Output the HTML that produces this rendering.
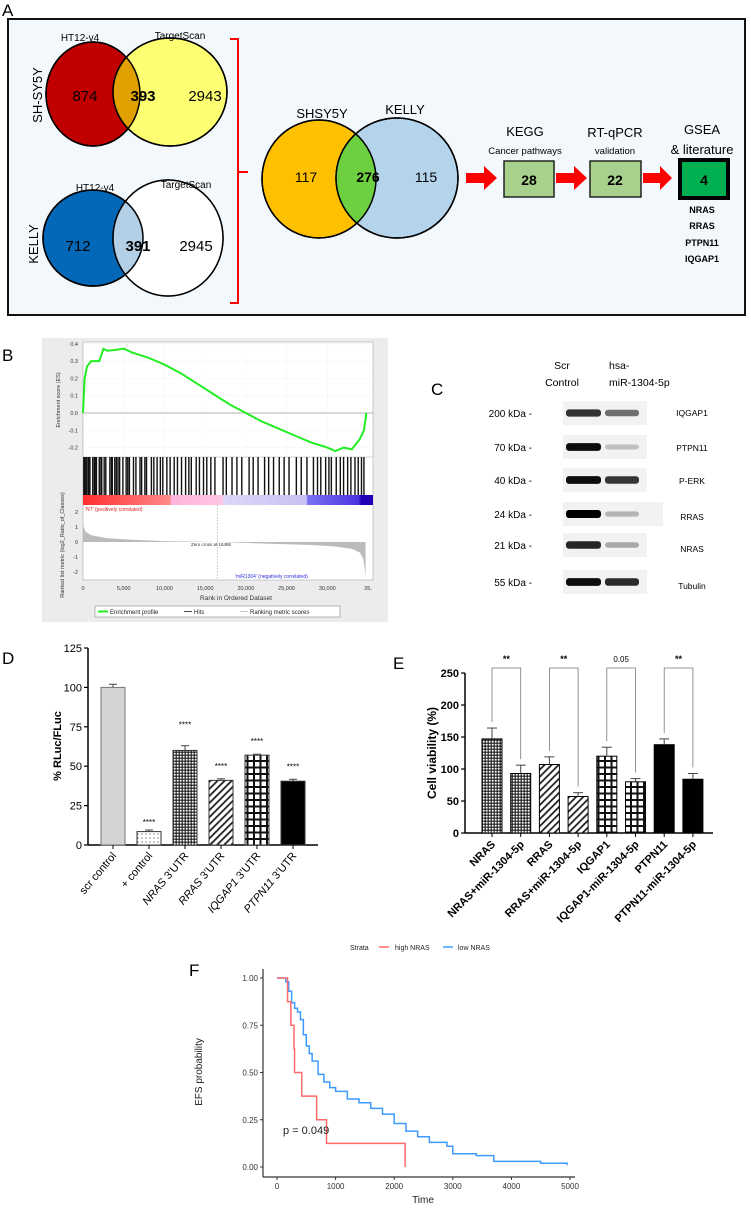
<!DOCTYPE html>
<html><head><meta charset="utf-8"><style>
html,body{margin:0;padding:0;background:#fff;}
svg{display:block;font-family:"Liberation Sans",Arial,sans-serif;}
</style></head><body>
<svg id="fig" width="751" height="1211" viewBox="0 0 751 1211" xmlns="http://www.w3.org/2000/svg">
<defs>
<pattern id="pDots" width="4" height="4" patternUnits="userSpaceOnUse"><rect width="4" height="4" fill="#fff"/><circle cx="2" cy="2" r="0.6" fill="#444"/></pattern>
<pattern id="pCheck" width="3" height="3" patternUnits="userSpaceOnUse"><rect width="3" height="3" fill="#555"/><rect width="1.5" height="1.5" fill="#fff"/><rect x="1.5" y="1.5" width="1.5" height="1.5" fill="#222"/></pattern>
<pattern id="pDiag" width="5" height="5" patternUnits="userSpaceOnUse" patternTransform="rotate(45)"><rect width="5" height="5" fill="#fff"/><rect width="1.8" height="5" fill="#222"/></pattern>
<pattern id="pGrid" width="6.5" height="6.5" patternUnits="userSpaceOnUse"><rect width="6.5" height="6.5" fill="#111"/><rect x="1.5" y="1.5" width="4.5" height="4.5" fill="#fff"/></pattern>
<linearGradient id="gBar" x1="0" x2="1" y1="0" y2="0">
<stop offset="0" stop-color="#ff2e2e"/><stop offset="0.3" stop-color="#ff8a8a"/><stop offset="0.305" stop-color="#ffb4dc"/><stop offset="0.48" stop-color="#ffc4e4"/><stop offset="0.485" stop-color="#dcd6f8"/><stop offset="0.77" stop-color="#c8c2f4"/><stop offset="0.775" stop-color="#7a72f2"/><stop offset="0.95" stop-color="#4d33e0"/><stop offset="0.96" stop-color="#2200b8"/><stop offset="1" stop-color="#2200b8"/>
</linearGradient>
</defs>

<!-- PANEL A -->
<g>
<text x="2" y="16" font-size="17">A</text>
<rect x="8" y="19" width="737" height="296" fill="#f3f8fc" stroke="#111" stroke-width="2"/>
<ellipse cx="93" cy="94" rx="47" ry="52" fill="#c00000" stroke="#000" stroke-width="1.5"/>
<ellipse cx="170" cy="92" rx="57" ry="54" fill="#ffff5a" fill-opacity="0.85" stroke="#000" stroke-width="1.5"/>
<clipPath id="cRed"><ellipse cx="93" cy="94" rx="47" ry="52"/></clipPath>
<ellipse cx="170" cy="92" rx="57" ry="54" fill="#e0a000" clip-path="url(#cRed)"/>
<ellipse cx="93" cy="94" rx="47" ry="52" fill="none" stroke="#000" stroke-width="1.5"/>
<ellipse cx="170" cy="92" rx="57" ry="54" fill="none" stroke="#000" stroke-width="1.5"/>
<text x="80" y="41" font-size="10" text-anchor="middle">HT12-v4</text>
<text x="180" y="39" font-size="10" text-anchor="middle">TargetScan</text>
<text x="85" y="101" font-size="15" text-anchor="middle">874</text>
<text x="143" y="101" font-size="15" font-weight="bold" text-anchor="middle">393</text>
<text x="205" y="101" font-size="15" text-anchor="middle">2943</text>
<text transform="translate(42,95) rotate(-90)" font-size="13" text-anchor="middle">SH-SY5Y</text>

<ellipse cx="93" cy="238" rx="50" ry="48" fill="#0468b8" stroke="#000" stroke-width="1.5"/>
<ellipse cx="168" cy="238" rx="55" ry="58" fill="#fff" fill-opacity="0" stroke="#000" stroke-width="1.5"/>
<path d="M0 0" />
<ellipse cx="168" cy="238" rx="55" ry="58" fill="#fff"/>
<clipPath id="cBlue"><ellipse cx="93" cy="238" rx="50" ry="48"/></clipPath>
<ellipse cx="168" cy="238" rx="55" ry="58" fill="#b4d0e6" clip-path="url(#cBlue)"/>
<ellipse cx="93" cy="238" rx="50" ry="48" fill="none" stroke="#000" stroke-width="1.5"/>
<ellipse cx="168" cy="238" rx="55" ry="58" fill="none" stroke="#000" stroke-width="1.5"/>
<text x="95" y="191" font-size="10" text-anchor="middle">HT12-v4</text>
<text x="186" y="188" font-size="10" text-anchor="middle">TargetScan</text>
<text x="78" y="251" font-size="15" text-anchor="middle">712</text>
<text x="138" y="251" font-size="15" font-weight="bold" text-anchor="middle">391</text>
<text x="196" y="251" font-size="15" text-anchor="middle">2945</text>
<text transform="translate(38,244) rotate(-90)" font-size="13" text-anchor="middle">KELLY</text>

<path d="M230 39 H238 V303 H230 M238 172 H248" fill="none" stroke="#ff0000" stroke-width="2"/>

<ellipse cx="319" cy="179" rx="57" ry="59" fill="#ffc000" stroke="#000" stroke-width="1.5"/>
<ellipse cx="397" cy="178" rx="61" ry="60" fill="#b4d4ec" stroke="#000" stroke-width="1.5"/>
<clipPath id="cOr"><ellipse cx="319" cy="179" rx="57" ry="59"/></clipPath>
<ellipse cx="397" cy="178" rx="61" ry="60" fill="#6cd040" clip-path="url(#cOr)"/>
<ellipse cx="319" cy="179" rx="57" ry="59" fill="none" stroke="#000" stroke-width="1.5"/>
<ellipse cx="397" cy="178" rx="61" ry="60" fill="none" stroke="#000" stroke-width="1.5"/>
<text x="322" y="118" font-size="13" text-anchor="middle">SHSY5Y</text>
<text x="405" y="114" font-size="13" text-anchor="middle">KELLY</text>
<text x="306" y="182" font-size="14" text-anchor="middle">117</text>
<text x="368" y="182" font-size="14" font-weight="bold" text-anchor="middle">276</text>
<text x="426" y="182" font-size="14" text-anchor="middle">115</text>

<path d="M466 173 H484 V166 L497 178 L484 190 V183 H466 Z" fill="#ff0000"/>
<path d="M556 173 H574 V166 L587 178 L574 190 V183 H556 Z" fill="#ff0000"/>
<path d="M643 173 H660 V166 L672 178 L660 190 V183 H643 Z" fill="#ff0000"/>
<rect x="504" y="161" width="50" height="36" fill="#a9d18e" stroke="#222" stroke-width="1.5"/>
<text x="529" y="185" font-size="14" font-weight="bold" text-anchor="middle">28</text>
<rect x="590" y="161" width="51" height="36" fill="#a9d18e" stroke="#222" stroke-width="1.5"/>
<text x="615" y="185" font-size="14" font-weight="bold" text-anchor="middle">22</text>
<rect x="680" y="160" width="48" height="38" fill="#00b050" stroke="#000" stroke-width="4"/>
<text x="704" y="185" font-size="14" font-weight="bold" text-anchor="middle">4</text>
<text x="525" y="136" font-size="13" text-anchor="middle">KEGG</text>
<text x="525" y="154" font-size="9.5" text-anchor="middle">Cancer pathways</text>
<text x="615" y="137" font-size="13" text-anchor="middle">RT-qPCR</text>
<text x="615" y="154" font-size="9.5" text-anchor="middle">validation</text>
<text x="702" y="134" font-size="13" text-anchor="middle">GSEA</text>
<text x="702" y="154" font-size="13" text-anchor="middle">&amp; literature</text>
<g font-size="9" font-weight="bold" text-anchor="middle">
<text x="702" y="213">NRAS</text><text x="702" y="229">RRAS</text><text x="702" y="246">PTPN11</text><text x="702" y="262">IQGAP1</text>
</g>
</g>

<!-- PANEL B -->
<g id="panelB">
<text x="2" y="361" font-size="17">B</text>
<rect x="42" y="338" width="346" height="284" fill="#ececec"/>
<rect x="83" y="342" width="290" height="238" fill="#fff" stroke="#aaa" stroke-width="0.6"/>
</g>

<!-- PANEL C -->
<g id="panelC">
<text x="431" y="395" font-size="17">C</text>
<text x="562" y="369" font-size="10.5" text-anchor="middle">Scr</text>
<text x="562" y="386" font-size="10.5" text-anchor="middle">Control</text>
<text x="609" y="369" font-size="10.5">hsa-</text>
<text x="609" y="386" font-size="10.5">miR-1304-5p</text>
</g>

<!-- PANEL D -->
<g id="panelD">
<text x="2" y="664" font-size="17">D</text>
</g>
<!-- PANEL E -->
<g id="panelE">
<text x="393" y="669" font-size="17">E</text>
</g>
<!-- PANEL F -->
<g id="panelF">
<text x="189" y="976" font-size="17">F</text>
</g>
</svg>
<script>
const NS='http://www.w3.org/2000/svg';
function mk(parent,tag,attrs,txt){const e=document.createElementNS(NS,tag);for(const k in attrs)e.setAttribute(k,attrs[k]);if(txt!==undefined)e.textContent=txt;parent.appendChild(e);return e;}

// ---------- GSEA data ----------
const esRanks=[0,200,500,1000,1500,2000,2500,3000,4000,5000,6000,8000,10000,12000,14000,16000,18000,20000,22000,24000,26000,28000,30000,31000,32000,33000,34000,34500,34800];
const esValues=[0,0.2,0.27,0.3,0.3,0.3,0.37,0.36,0.365,0.372,0.35,0.32,0.28,0.23,0.17,0.11,0.05,0.0,-0.05,-0.09,-0.13,-0.17,-0.2,-0.22,-0.2,-0.21,-0.15,-0.1,0.0];
const hitRanks=[100,250,400,600,700,850,1200,1400,1500,1650,2000,2200,2300,2600,2800,3300,3500,3600,3900,4100,4300,4500,4900,5300,5500,5700,6200,6500,7000,7200,7600,7800,8400,8700,9100,9500,9800,10300,10700,11200,11600,12100,12600,13000,13300,13900,14300,14800,15200,15700,16200,17200,17600,18300,18900,19500,20400,20900,21500,22300,22800,23400,24100,24700,25300,26200,26800,27500,28300,28800,29200,29800,30200,30500,31100,31600,32000,32500,32900,33400,33800,34200,34500];
const metricRanks=[0,300,1000,3000,6000,10000,16486,22000,28000,31000,33000,34000,34400,34600,34700];
const metricValues=[1.1,0.7,0.45,0.25,0.15,0.06,0,-0.1,-0.2,-0.3,-0.45,-0.7,-1.1,-1.8,-2.4];
const esTicks=[0.4,0.3,0.2,0.1,0.0,-0.1,-0.2];
const metricTicks=[2,1,0,-1,-2];
const rankTicks=[0,5000,10000,15000,20000,25000,30000,35000];
const rankTickLabels=['0','5,000','10,000','15,000','20,000','25,000','30,000','35,'];

const B=document.getElementById('panelB');
const rx=r=>83+r/35000*285;
const esY=v=>413-v*173;
const mY=v=>542-v*15;
esTicks.forEach(t=>{
 const gl=mk(B,'line',{x1:83,x2:373,y1:esY(t),y2:esY(t),stroke:t===0?'#999':'#e4e4e4','stroke-width':t===0?0.8:0.5,'stroke-dasharray':t===0?'':'1,1'});
 
 
 const tl=mk(B,'text',{x:78,y:esY(t)+2,'font-size':5.5,'text-anchor':'end',fill:'#333'},t.toFixed(1));
 
 
});
[5000,10000,15000,20000,25000,30000].forEach(r=>{mk(B,'line',{x1:rx(r),x2:rx(r),y1:342,y2:457,stroke:'#e8e8e8','stroke-width':0.5,'stroke-dasharray':'1,1'});});
mk(B,'line',{x1:83,x2:373,y1:457,y2:457,stroke:'#aaa','stroke-width':0.6});
const esPts=esRanks.map((r,i)=>rx(r)+','+esY(esValues[i])).join(' ');
const esLine=mk(B,'polyline',{points:esPts,fill:'none',stroke:'#22ee22','stroke-width':2});


hitRanks.forEach(r=>{
 const h=mk(B,'rect',{x:rx(r)-0.7,y:457,width:1.4,height:38,fill:'#111'});
 
 
});
const cb=mk(B,'rect',{x:83,y:495,width:290,height:10,fill:'url(#gBar)'});


let mp='M'+rx(metricRanks[0])+','+mY(0);
metricRanks.forEach((r,i)=>{mp+=' L'+rx(r)+','+mY(metricValues[i]);});
mp+=' L'+rx(34700)+','+mY(0)+' Z';
const ma=mk(B,'path',{d:mp,fill:'#bbb'});


mk(B,'line',{x1:rx(16486),x2:rx(16486),y1:505,y2:580,stroke:'#999','stroke-width':0.6,'stroke-dasharray':'1.5,1.5'});
metricTicks.forEach(t=>{
 const tl=mk(B,'text',{x:78,y:mY(t)+2,'font-size':5.5,'text-anchor':'end',fill:'#333'},String(t));
 
 
});
rankTicks.forEach((r,i)=>{
 const tl=mk(B,'text',{x:rx(r),y:590,'font-size':5.5,'text-anchor':'middle',fill:'#333'},rankTickLabels[i]);
 
 
});
mk(B,'text',{x:85,y:511,'font-size':5,fill:'#e02020'},"'NT' (positively correlated)");
mk(B,'text',{x:191,y:546,'font-size':4.5,fill:'#333'},"Zero cross at 16486");
mk(B,'text',{x:235,y:578,'font-size':5,fill:'#3030e0'},"'miR1304' (negatively correlated)");
mk(B,'text',{x:236,y:600,'font-size':6.5,'text-anchor':'middle',fill:'#333'},"Rank in Ordered Dataset");
mk(B,'text',{transform:'translate(60,400) rotate(-90)','font-size':5.5,'text-anchor':'middle',fill:'#333'},"Enrichment score (ES)");
mk(B,'text',{transform:'translate(64,545) rotate(-90)','font-size':5.5,'text-anchor':'middle',fill:'#333'},"Ranked list metric (log2_Ratio_of_Classes)");
const lg=mk(B,'rect',{x:95,y:606,width:245,height:11,fill:'#fff',stroke:'#888','stroke-width':0.6});


mk(B,'line',{x1:98,x2:108,y1:611.5,y2:611.5,stroke:'#22ee22','stroke-width':2});
mk(B,'text',{x:110,y:614,'font-size':6,fill:'#222'},'Enrichment profile');
mk(B,'line',{x1:184,x2:192,y1:611.5,y2:611.5,stroke:'#222','stroke-width':0.8});
mk(B,'text',{x:194,y:614,'font-size':6,fill:'#222'},'Hits');
mk(B,'line',{x1:240,x2:248,y1:611.5,y2:611.5,stroke:'#bbb','stroke-width':0.8});
mk(B,'text',{x:250,y:614,'font-size':6,fill:'#222'},'Ranking metric scores');

// ---------- Panel C blots ----------
const blotKda=['200 kDa -','70 kDa -','40 kDa -','24 kDa -','21 kDa -','55 kDa -'];
const blotNames=['IQGAP1','PTPN11','P-ERK','RRAS','NRAS','Tubulin'];
const ctrlIntensity=[0.8,0.95,0.95,1.0,0.85,0.95];
const mirIntensity=[0.6,0.25,0.85,0.3,0.35,0.9];
const C=document.getElementById('panelC');
const rowY=[413,447,480,514,545,582];
blotKda.forEach((k,i)=>{
 const y=rowY[i];
 const t=mk(C,'text',{x:532,y:y+4,'font-size':10,'text-anchor':'end'},k);
 
 
 const bg=mk(C,'rect',{x:563,y:y-12,width:i===3?100:84,height:24,fill:'#f2f2f2'});
 
 
 const g1=Math.round(255*(1-ctrlIntensity[i]));
 const b1=mk(C,'rect',{x:566,y:y-2-ctrlIntensity[i]*2,width:35,height:4+ctrlIntensity[i]*4,rx:3,fill:`rgb(${g1},${g1},${g1})`});
 
 
 const g2=Math.round(255*(1-mirIntensity[i])*0.9+20);
 const b2=mk(C,'rect',{x:605,y:y-2-mirIntensity[i]*2,width:34,height:4+mirIntensity[i]*4,rx:3,fill:`rgb(${g2},${g2},${g2})`});
 
 
 const n=mk(C,'text',{x:692,y:y+(i===0?3:i===3?6:4)+(i>=4?3:0),'font-size':8.5,'text-anchor':'middle'},blotNames[i]);
 
 
});

// ---------- Panel D ----------
const dCats=['scr control','+ control','NRAS','RRAS','IQGAP1','PTPN11'];
const dValues=[100,8.5,60,41,57,40.5];
const dErrors=[2,1,3,1,0.6,1.2];
const dTicks=[0,25,50,75,100,125];
const dFills=['#d3d3d3','url(#pDots)','url(#pCheck)','url(#pDiag)','url(#pGrid)','#000'];
const D=document.getElementById('panelD');
const dY=v=>845-v*1.576;
const dX=i=>113+i*36;
mk(D,'line',{x1:88,x2:318,y1:845,y2:845,stroke:'#000','stroke-width':1.5});
mk(D,'line',{x1:88,x2:88,y1:dY(125),y2:845,stroke:'#000','stroke-width':1.5});
dTicks.forEach(t=>{
 mk(D,'line',{x1:84,x2:88,y1:dY(t),y2:dY(t),stroke:'#000','stroke-width':1.2});
 const tl=mk(D,'text',{x:82,y:dY(t)+4,'font-size':11,'text-anchor':'end'},String(t));
 
 
});
mk(D,'text',{transform:'translate(61,746) rotate(-90)','font-size':11,'font-weight':'bold','text-anchor':'middle'},'% RLuc/FLuc');
dCats.forEach((c,i)=>{
 const x=dX(i),v=dValues[i];
 const bar=mk(D,'rect',{x:x-12,y:dY(v),width:24,height:845-dY(v),fill:dFills[i],stroke:i===0?'#777':'#333','stroke-width':1});
 
 
 mk(D,'line',{x1:x,x2:x,y1:dY(v),y2:dY(v+dErrors[i]),stroke:'#444','stroke-width':1});
 mk(D,'line',{x1:x-4,x2:x+4,y1:dY(v+dErrors[i]),y2:dY(v+dErrors[i]),stroke:'#444','stroke-width':1});
 mk(D,'line',{x1:x,x2:x,y1:845,y2:849,stroke:'#000','stroke-width':1});
 if(i>0){
  const s=mk(D,'text',{x:x,y:dY(v+dErrors[i])-(i===1?5:i===2?18:10),'font-size':8,'text-anchor':'middle'},'****');
  
  
 }
 const lab=mk(D,'text',{transform:`translate(${x+4},856) rotate(-50)`,'font-size':11,'text-anchor':'end'});
 
 
 if(i<2){lab.textContent=c;}else{
  mk(lab,'tspan',{'font-style':'italic'},c);
  mk(lab,'tspan',{},'  3\u2019UTR');
 }
});

// ---------- Panel E ----------
const eCats=['NRAS','NRAS+miR-1304-5p','RRAS','RRAS+miR-1304-5p','IQGAP1','IQGAP1-miR-1304-5p','PTPN11','PTPN11-miR-1304-5p'];
const eValues=[147,93,107,57,120,80,138,84];
const eErrors=[17,13,12,6,14,5,9,9];
const eTicks=[0,50,100,150,200,250];
const eSig=['**','**','0.05','**'];
const eFills=['url(#pCheck)','url(#pCheck)','url(#pDiag)','url(#pDiag)','url(#pGrid)','url(#pGrid)','#000','#000'];
const E=document.getElementById('panelE');
const eY=v=>833-v*0.64;
const eX=i=>492+i*28.7;
mk(E,'line',{x1:465,x2:713,y1:833,y2:833,stroke:'#000','stroke-width':1.5});
mk(E,'line',{x1:465,x2:465,y1:eY(250),y2:833,stroke:'#000','stroke-width':1.5});
eTicks.forEach(t=>{
 mk(E,'line',{x1:461,x2:465,y1:eY(t),y2:eY(t),stroke:'#000','stroke-width':1.2});
 const tl=mk(E,'text',{x:459,y:eY(t)+4,'font-size':11,'font-weight':'bold','text-anchor':'end'},String(t));
 
 
});
mk(E,'text',{transform:'translate(436,753) rotate(-90)','font-size':12,'font-weight':'bold','text-anchor':'middle'},'Cell viability (%)');
eCats.forEach((c,i)=>{
 const x=eX(i),v=eValues[i];
 const bar=mk(E,'rect',{x:x-10,y:eY(v),width:20,height:833-eY(v),fill:eFills[i],stroke:'#000','stroke-width':1});
 
 
 mk(E,'line',{x1:x,x2:x,y1:eY(v),y2:eY(v+eErrors[i]),stroke:'#444','stroke-width':1});
 mk(E,'line',{x1:x-5,x2:x+5,y1:eY(v+eErrors[i]),y2:eY(v+eErrors[i]),stroke:'#444','stroke-width':1});
 mk(E,'line',{x1:x,x2:x,y1:833,y2:837,stroke:'#000','stroke-width':1});
 const lab=mk(E,'text',{transform:`translate(${x+4},845) rotate(-45)`,'font-size':11,'font-weight':'bold','text-anchor':'end'},c);
 
 
});
eSig.forEach((s,k)=>{
 const i=2*k,x1=eX(i),x2=eX(i+1);
 const br=mk(E,'path',{d:`M${x1},${eY(eValues[i]+eErrors[i])-6} V668 H${x2} V${eY(eValues[i+1]+eErrors[i+1])-6}`,fill:'none',stroke:'#777','stroke-width':0.8});
 
 
 const t=mk(E,'text',{x:(x1+x2)/2,y:662,'font-size':s==='**'?9:8,'font-weight':s==='**'?'bold':'normal','text-anchor':'middle'},s);
 
 
});

// ---------- Panel F ----------
const highTimes=[0,180,237,290,300,422,676,845,2186];
const highSurv=[1,0.875,0.75,0.625,0.5,0.375,0.25,0.125,0];
const lowTimes=[0,150,200,250,300,350,400,450,500,550,600,700,800,900,1000,1200,1400,1600,1800,2000,2200,2400,2600,2800,2900,3000,3400,3700,4500,4950];
const lowSurv=[1,0.98,0.93,0.87,0.84,0.82,0.78,0.70,0.64,0.60,0.56,0.49,0.45,0.42,0.40,0.36,0.34,0.31,0.28,0.23,0.19,0.16,0.13,0.13,0.11,0.07,0.06,0.03,0.02,0.01];
const fYTicks=[0,0.25,0.5,0.75,1];
const fXTicks=[0,1000,2000,3000,4000,5000];
const F=document.getElementById('panelF');
const fx=t=>277+t*0.0586;
const fy=v=>1167-v*189;
mk(F,'line',{x1:263,x2:263,y1:969,y2:1177,stroke:'#333','stroke-width':1.2});
mk(F,'line',{x1:263,x2:575,y1:1177,y2:1177,stroke:'#333','stroke-width':1.2});
fYTicks.forEach(t=>{
 mk(F,'line',{x1:260,x2:263,y1:fy(t),y2:fy(t),stroke:'#333'});
 const tl=mk(F,'text',{x:258,y:fy(t)+3,'font-size':8,'text-anchor':'end',fill:'#333'},t.toFixed(2));
 
 
});
fXTicks.forEach(t=>{
 mk(F,'line',{x1:fx(t),x2:fx(t),y1:1177,y2:1180,stroke:'#333'});
 const tl=mk(F,'text',{x:fx(t),y:1189,'font-size':8,'text-anchor':'middle',fill:'#333'},String(t));
 
 
});
function stepPath(ts,ss){let d=`M${fx(ts[0])},${fy(ss[0])}`;for(let i=1;i<ts.length;i++){d+=` H${fx(ts[i])} V${fy(ss[i])}`;}return d;}
const lowP=mk(F,'path',{d:stepPath(lowTimes,lowSurv),fill:'none',stroke:'#3d9bff','stroke-width':1.5});


const highP=mk(F,'path',{d:stepPath(highTimes,highSurv),fill:'none',stroke:'#ff6b6b','stroke-width':1.5});


mk(F,'text',{x:283,y:1134,'font-size':11,fill:'#222'},'p = 0.049');
mk(F,'text',{x:423,y:1203,'font-size':10,'text-anchor':'middle',fill:'#222'},'Time');
mk(F,'text',{transform:'translate(202,1072) rotate(-90)','font-size':10,'text-anchor':'middle',fill:'#222'},'EFS probability');
const lgF=mk(F,'g',{});


mk(lgF,'text',{x:350,y:950,'font-size':7,fill:'#222'},'Strata');
mk(lgF,'line',{x1:379,x2:389,y1:947,y2:947,stroke:'#ff6b6b','stroke-width':1.5});
mk(lgF,'text',{x:395,y:950,'font-size':7,fill:'#222'},'high NRAS');
mk(lgF,'line',{x1:443,x2:453,y1:947,y2:947,stroke:'#3d9bff','stroke-width':1.5});
mk(lgF,'text',{x:458,y:950,'font-size':7,fill:'#222'},'low NRAS');
</script>
</body></html>
